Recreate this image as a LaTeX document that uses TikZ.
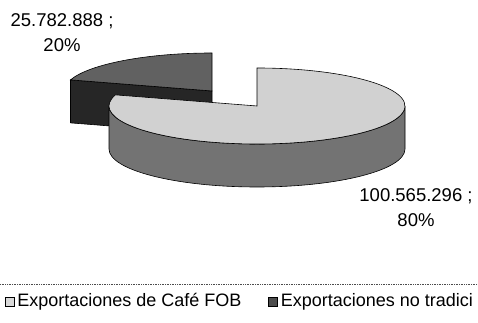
\documentclass[tikz,border=0pt]{standalone}
\usepackage{fontspec}
\setmainfont{Liberation Sans}
\usepackage{tikz}
\usetikzlibrary{calc,positioning}
\newcommand{\radx}{148}
\newcommand{\rady}{38}
\newcommand{\alto}{43}
\newcommand{\rotfont}{\fontsize{18.5}{25}\selectfont}
\newcommand{\leyfont}{\fontsize{18}{22}\selectfont}
\tikzstyle{tapa1}=[draw, line width = .6pt, fill = black!18]
\tikzstyle{lado1}=[draw, line width = .6pt, fill = black!55]
\tikzstyle{tapa2}=[draw, line width = .6pt, fill = black!62]
\tikzstyle{lado2}=[draw, line width = .6pt, fill = black!85]
\tikzstyle{rot}=[align = center, inner sep = 0pt, font = \rotfont]
\tikzstyle{ley}=[inner sep = 0pt, font = \leyfont]
\tikzstyle{cuadro}=[draw, minimum size = 9pt, inner sep = 0pt]
\tikzstyle{borde}=[densely dotted, line width = .7pt, black!70]

\begin{document}
\begin{tikzpicture}[x=1pt, y=1pt]
  \useasboundingbox (0,0) rectangle (478,323);
  \clip (0,0) rectangle (478,323);
  \coordinate (c1) at (257,217);
  \coordinate (c2) at (212,232);
  % porcion separada, 20%
  \draw[lado2] (c2) -- ($(c2)+(163:{\radx} and {\rady})$) -- ++(0,-\alto)
     -- ($(c2)+(0,-\alto)$) -- cycle;
  \draw[tapa2] (c2) -- ++(90:{\radx} and {\rady})
     arc[start angle=90, end angle=163, x radius=\radx, y radius=\rady] -- cycle;
  % porcion grande, 80%
  \draw[lado1] ($(c1)+(-\radx,0)$)
     arc[start angle=180, end angle=360, x radius=\radx, y radius=\rady]
     -- ++(0,-\alto)
     arc[start angle=360, end angle=180, x radius=\radx, y radius=\rady] -- cycle;
  \draw[tapa1] (c1) -- ++(163:{\radx} and {\rady})
     arc[start angle=163, end angle=450, x radius=\radx, y radius=\rady] -- cycle;
  % rotulos
  \node[rot] (v20) at (62,290) {25.782.888 ;\\20\%};
  \node[rot] (v80) at (416,115.5) {100.565.296 ;\\80\%};
  % leyenda
  \coordinate (l0) at (0,39);
  \coordinate (l1) at (478,39);
  \draw[borde] (l0) -- (l1);
  \node[cuadro, fill = black!15] (k1) at (9.5,21) {};
  \node[ley, right = 3pt of k1] (t1) {Exportaciones de Café FOB};
  \node[cuadro, fill = black!70] (k2) at (273,21) {};
  \node[ley, right = 3pt of k2] (t2) {Exportaciones no tradici};
\end{tikzpicture}
\end{document}
